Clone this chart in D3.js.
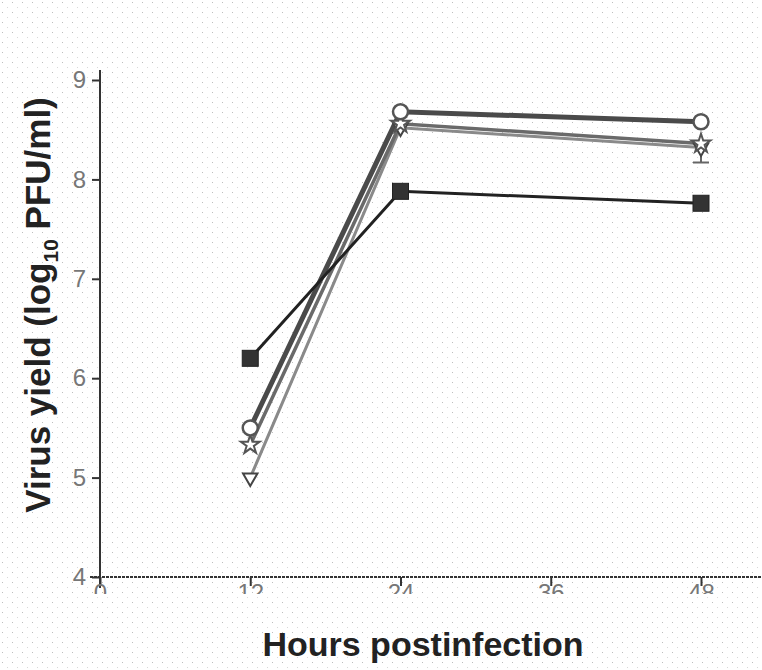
<!DOCTYPE html>
<html><head><meta charset="utf-8">
<script src="https://cdn.jsdelivr.net/npm/d3@7"></script>
<style>body{margin:0;background:#fff}svg{display:block}</style>
</head><body>
<script>
const hours = [12, 24, 48];
const squareVals = [6.2, 7.88, 7.76];
const circleVals = [5.5, 8.68, 8.58];
const starVals = [5.33, 8.56, 8.36];
const triVals = [5.0, 8.52, 8.32];
const triErrLow = [null, null, 8.17];
const xTicks = [0, 12, 24, 36, 48];
const yTicks = [4, 5, 6, 7, 8, 9];

const W = 762, H = 670;
const svg = d3.select("body").append("svg").attr("width", W).attr("height", H);
const defs = svg.append("defs");
const pat = defs.append("pattern").attr("id","dots").attr("width",10).attr("height",10).attr("patternUnits","userSpaceOnUse");
pat.append("rect").attr("x",2).attr("y",2).attr("width",1).attr("height",1).attr("fill","#bdbdbd");
pat.append("rect").attr("x",7).attr("y",7).attr("width",1).attr("height",1).attr("fill","#d8d8d8");
svg.append("rect").attr("width",W).attr("height",H).attr("fill","url(#dots)");

const x = d3.scaleLinear().domain([0, 48]).range([100, 701]);
const y = d3.scaleLinear().domain([4, 9]).range([577, 80]);

const axisColor = "#333";
svg.append("line").attr("x1", x(0)).attr("x2", x(0)).attr("y1", 70).attr("y2", 588)
  .attr("stroke", axisColor).attr("stroke-width", 2);
svg.append("line").attr("x1", 90).attr("x2", 762).attr("y1", y(4)).attr("y2", y(4))
  .attr("stroke", axisColor).attr("stroke-width", 2).attr("stroke-dasharray","3,1");

const yAxis = d3.axisLeft(y).tickValues(yTicks).tickSize(8).tickFormat(d3.format("d"));
const gy = svg.append("g").attr("transform", `translate(${x(0)},0)`).call(yAxis);
gy.select(".domain").remove();
gy.selectAll(".tick line").attr("stroke", axisColor).attr("stroke-width", 2);
gy.selectAll(".tick text").attr("font-family","Liberation Sans, Arial, sans-serif")
  .attr("font-size", 24).attr("fill","#777").attr("x", -14);

const clip = defs.append("clipPath").attr("id","xclip");
clip.append("rect").attr("x",0).attr("y",0).attr("width",W).attr("height",y(4)+17);
const xAxis = d3.axisBottom(x).tickValues(xTicks).tickSize(9).tickFormat(d3.format("d"));
const gx = svg.append("g").attr("transform", `translate(0,${y(4)})`).call(xAxis);
gx.select(".domain").remove();
gx.selectAll(".tick line").attr("stroke", axisColor).attr("stroke-width", 2);
gx.selectAll(".tick text").attr("font-family","Liberation Sans, Arial, sans-serif")
  .attr("font-size", 24).attr("fill","#777").attr("y", 7);
svg.append("g").attr("clip-path","url(#xclip)").node().appendChild(gx.node());

svg.append("text").attr("x", 423).attr("y", 656).attr("text-anchor","middle")
  .attr("font-family","Liberation Sans, Arial, sans-serif").attr("font-weight","bold")
  .attr("font-size", 34).attr("fill","#222").text("Hours postinfection");
const yt = svg.append("text").attr("transform","translate(50,305) rotate(-90)").attr("text-anchor","middle")
  .attr("font-family","Liberation Sans, Arial, sans-serif").attr("font-weight","bold")
  .attr("font-size", 35).attr("fill","#222");
yt.append("tspan").text("Virus yield (log");
yt.append("tspan").attr("font-size", 21).attr("dy", 8).text("10");
yt.append("tspan").attr("dy", -8).text(" PFU/ml)");

const line = d3.line().x((d,i) => x(hours[i])).y(d => y(d));

svg.append("path").datum(triVals).attr("d", line).attr("fill","none").attr("stroke","#8a8a8a").attr("stroke-width",3);
svg.append("path").datum(starVals).attr("d", line).attr("fill","none").attr("stroke","#6a6a6a").attr("stroke-width",3.5);
svg.append("path").datum(circleVals).attr("d", line).attr("fill","none").attr("stroke","#4a4a4a").attr("stroke-width",5);
svg.append("path").datum(squareVals).attr("d", line).attr("fill","none").attr("stroke","#222").attr("stroke-width",3);

triErrLow.forEach((v,i) => {
  if (v == null) return;
  svg.append("line").attr("x1", x(hours[i])).attr("x2", x(hours[i])).attr("y1", y(triVals[i])).attr("y2", y(v))
    .attr("stroke","#666").attr("stroke-width",2);
  svg.append("line").attr("x1", x(hours[i])-8).attr("x2", x(hours[i])+8).attr("y1", y(v)).attr("y2", y(v))
    .attr("stroke","#666").attr("stroke-width",2);
});

const tri = d3.symbol().type(d3.symbolTriangle).size(90);
svg.selectAll(".tri").data(triVals).join("path").attr("class","tri")
  .attr("transform",(d,i)=>`translate(${x(hours[i])},${y(d)}) rotate(180)`)
  .attr("d", tri).attr("fill","#fff").attr("stroke","#444").attr("stroke-width",2);
const star = d3.symbol().type(d3.symbolStar).size(110);
svg.selectAll(".star").data(starVals).join("path").attr("class","star")
  .attr("transform",(d,i)=>`translate(${x(hours[i])},${y(d)})`)
  .attr("d", star).attr("fill","#fff").attr("stroke","#555").attr("stroke-width",2);
svg.selectAll(".circ").data(circleVals).join("circle").attr("class","circ")
  .attr("cx",(d,i)=>x(hours[i])).attr("cy",d=>y(d)).attr("r",7.5)
  .attr("fill","#fff").attr("stroke","#555").attr("stroke-width",2.5);
svg.selectAll(".sq").data(squareVals).join("rect").attr("class","sq")
  .attr("x",(d,i)=>x(hours[i])-8).attr("y",d=>y(d)-8).attr("width",16).attr("height",16)
  .attr("fill","#333").attr("stroke","#222").attr("stroke-width",1);
</script>
</body></html>
